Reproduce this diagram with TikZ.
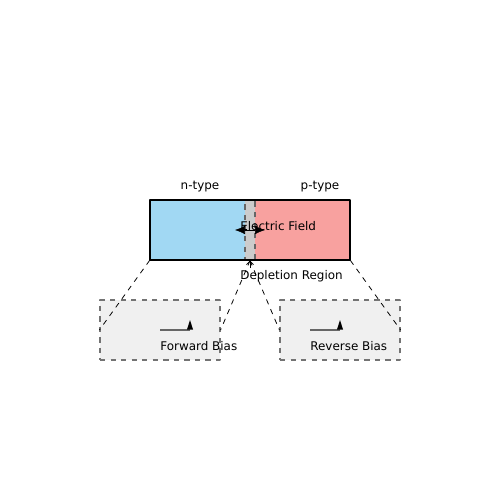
\documentclass[tikz,border=0pt]{standalone}
\usepackage{fontspec}
\setmainfont{DejaVu Sans}
\usetikzlibrary{arrows.meta}
\definecolor{nblue}{HTML}{A1D8F3}
\definecolor{pred}{HTML}{F8A19F}
\definecolor{depgray}{HTML}{CCCCCC}
\definecolor{biasbg}{HTML}{F0F0F0}
\tikzset{
  region/.style={inner sep=0, minimum height=1.2cm},
  biasbox/.style={draw=black!55, dashed, line width=0.7pt, fill=biasbg, inner sep=0,
    minimum width=2.4cm, minimum height=1.2cm},
  zoomline/.style={dashed, line width=0.45pt},
  label/.style={inner sep=0},
}
\begin{document}
\begin{tikzpicture}[x=0.02cm, y=-0.02cm, line join=round, font=\fontsize{6.8}{8.2}\selectfont]
       	\useasboundingbox (0,0) rectangle (500,500);
       	% junction
       	\node[region, fill=nblue, minimum width=1.9cm] (nreg) at (197.5,230) {};
       	\node[region, fill=pred, minimum width=1.9cm] (preg) at (302.5,230) {};
       	\node[region, fill=depgray, draw=black!60, dashed, line width=0.7pt, minimum width=0.2cm] (dep) at (250,230) {};
       	\draw[line width=1pt] (nreg.north west) rectangle (preg.south east);
       	\node[label] (ntype) at (200,186.5) {n-type};
       	\node[label] (ptype) at (320,186.5) {p-type};
       	% field arrows
       	\coordinate (ef) at (250,230);
       	\draw[-{Latex[length=0.2cm,width=0.17cm]}, line width=0.3pt] (ef) -- ++(-15,0);
       	\draw[-{Latex[length=0.2cm,width=0.17cm]}, line width=0.3pt] (ef) -- ++(15,0);
       	\node[label, anchor=west] (efield) at (240,226.5) {Electric Field};
       	\node[label, anchor=west] (deplabel) at (240,276.5) {Depletion Region};
       	\draw[-{Straight Barb[length=2pt,width=4pt]}, line width=0.4pt] (250,268) -- (dep.south);
       	% bias boxes
       	\node[biasbox] (fwdbox) at (160,330) {};
       	\node[biasbox] (revbox) at (340,330) {};
       	\draw[zoomline] (nreg.south west) -- (fwdbox.west);
       	\draw[zoomline] (dep.south) -- (fwdbox.east);
       	\draw[zoomline] (dep.south) -- (revbox.west);
       	\draw[zoomline] (preg.south east) -- (revbox.east);
       	\draw[black!60, line width=0.85pt] (160,330) -- (190,330);
       	\fill (187,329.5) -- (193,329.5) -- (190,320) -- cycle;
       	\draw[black!60, line width=0.85pt] (310,330) -- (340,330);
       	\fill (337,329.5) -- (343,329.5) -- (340,320) -- cycle;
       	\node[label, anchor=west] (fwd) at (160,346.5) {Forward Bias};
       	\node[label, anchor=west] (rev) at (310,346.5) {Reverse Bias};
\end{tikzpicture}
\end{document}
